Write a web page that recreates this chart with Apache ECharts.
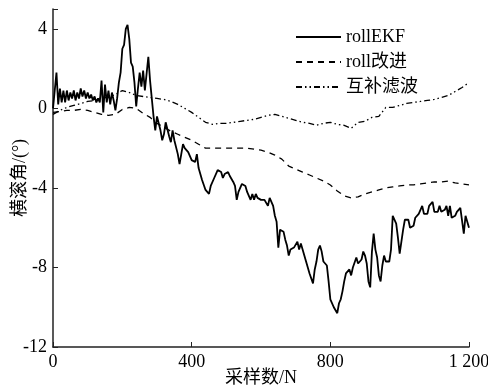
<!DOCTYPE html>
<html><head><meta charset="utf-8">
<script src="https://cdn.jsdelivr.net/npm/echarts@6/dist/echarts.min.js"></script>
<style>html,body{margin:0;padding:0;background:#fff}#c{width:488px;height:387px}</style>
</head><body><div id="c"></div>
<script>
const seriesNames = ['rollEKF', 'roll改进', '互补滤波'];
const xTicks = [0, 400, 800, 1200];
const yTicks = [-12, -8, -4, 0, 4];
const ekfStep = 5;
const rollEKF = [
0.0,0.9,1.8,0.2,1.0,0.3,0.9,0.3,0.9,0.4,0.8,0.5,0.9,0.4,0.8,0.5,1.0,0.6,0.9,0.5,
0.8,0.5,0.7,0.4,0.6,0.3,0.5,0.3,1.4,-0.2,1.2,0.3,0.9,0.2,0.8,0.4,-0.1,0.5,1.3,1.8,
3.0,3.2,4.0,4.2,3.5,2.3,2.1,1.3,0.1,1.0,1.8,1.1,1.9,0.9,1.0,2.6,1.4,0.5,-0.4,-1.1,
-0.4,-0.3,-1.1,-1.6,-1.3,-0.7,-0.7,-1.4,-1.7,-1.1,-1.6,-1.7,-2.3,-2.8,-2.3,-1.8,-2.0,-1.9,-2.2,-2.1,
-2.6,-2.7,-2.7,-2.3,-3.0,-3.1,-3.6,-3.7,-4.1,-4.0,-4.3,-3.9,-4.0,-3.5,-3.5,-3.1,-3.2,-3.2,-3.5,-3.3,
-3.4,-3.2,-3.4,-3.4,-3.7,-3.9,-4.6,-4.2,-4.3,-3.8,-3.9,-3.9,-4.2,-4.2,-4.6,-4.3,-4.6,-4.3,-4.5,-4.4,
-4.6,-4.5,-4.6,-4.6,-4.9,-4.5,-4.7,-4.9,-5.4,-5.7,-7.0,-6.1,-6.1,-6.2,-6.6,-6.9,-7.4,-7.1,-7.1,-7.0,
-7.0,-6.7,-7.1,-6.8,-7.1,-7.2,-7.7,-7.8,-8.3,-8.4,-8.8,-8.1,-7.7,-7.1,-6.9,-7.2,-7.7,-7.6,-7.9,-8.7,
-9.6,-9.7,-10.0,-10.0,-10.3,-9.8,-9.6,-9.2,-8.7,-8.3,-8.4,-8.1,-8.4,-8.0,-8.0,-7.5,-7.8,-7.7,-7.6,-7.2,
-7.4,-7.8,-8.7,-9.0,-7.2,-6.3,-7.1,-7.5,-8.4,-8.7,-7.9,-7.4,-7.7,-7.7,-7.7,-7.1,-5.4,-5.3,-5.8,-6.5,
-7.3,-6.7,-6.1,-5.6,-5.6,-5.6,-6.0,-5.9,-5.9,-5.5,-5.6,-5.3,-5.3,-4.9,-5.3,-5.2,-5.3,-4.9,-5.0,-4.7,
-5.2,-5.2,-5.2,-4.9,-5.2,-5.1,-5.1,-4.9,-5.4,-4.9,-5.5,-5.4,-5.4,-5.2,-5.3,-5.0,-5.1,-6.3,-5.4,-5.7,
-6.0
];
const smoothStep = 20;
const rollImproved = [
-0.2,-0.15,-0.1,-0.1,-0.05,-0.1,-0.2,-0.3,-0.35,-0.3,-0.05,0.05,0.0,-0.25,-0.45,-0.75,-0.95,-1.15,-1.3,-1.45,
-1.6,-1.8,-2.0,-2.0,-2.0,-2.0,-2.0,-2.0,-2.0,-2.05,-2.1,-2.2,-2.35,-2.55,-2.9,-3.05,-3.2,-3.35,-3.5,-3.65,
-3.85,-4.15,-4.4,-4.5,-4.45,-4.3,-4.2,-4.1,-4.0,-3.95,-3.9,-3.85,-3.85,-3.8,-3.75,-3.7,-3.7,-3.65,-3.75,-3.8,
-3.85
];
const compFilter = [
-0.3,-0.1,0.05,0.15,0.25,0.35,0.4,0.55,0.55,0.7,0.9,0.8,0.65,0.6,0.55,0.5,0.45,0.35,0.2,0.0,
-0.2,-0.45,-0.7,-0.8,-0.75,-0.75,-0.7,-0.65,-0.6,-0.55,-0.45,-0.35,-0.3,-0.4,-0.5,-0.6,-0.7,-0.75,-0.85,-0.75,
-0.7,-0.8,-0.85,-1.0,-0.7,-0.65,-0.45,-0.4,0.05,0.05,0.15,0.25,0.3,0.35,0.4,0.45,0.55,0.65,0.85,1.05,
1.3
];
const toXY = (arr, step) => arr.map((v, i) => [i * step, v]);
const FONT = '"Liberation Serif", "Noto Sans CJK SC", serif';
const chart = echarts.init(document.getElementById('c'), null, {renderer: 'canvas'});
chart.setOption({
  animation: false,
  backgroundColor: '#fff',
  grid: {left: 53, right: 19, top: 9, bottom: 40, containLabel: false, outerBoundsMode: 'none'},
  legend: {
    orient: 'vertical', left: 290, top: 23, itemWidth: 45, itemHeight: 14, itemGap: 7,
    itemStyle: {opacity: 0},
    textStyle: {fontFamily: FONT, fontSize: 18, color: '#000', lineHeight: 18},
    data: seriesNames
  },
  xAxis: {
    type: 'value', min: 0, max: 1200, interval: 400,
    name: '采样数/N', nameLocation: 'middle', nameGap: 22, nameMoveOverlap: false,
    nameTextStyle: {fontFamily: FONT, fontSize: 18, color: '#000'},
    axisLine: {onZero: false, lineStyle: {color: '#222', width: 1.5}},
    axisTick: {inside: true, length: 5, lineStyle: {color: '#222'}},
    axisLabel: {fontFamily: FONT, fontSize: 18, color: '#000', margin: 6,
      formatter: v => xTicks.includes(v) ? (v >= 1000 ? String(v).replace(/^(\d)(\d{3})$/, '$1 $2') : String(v)) : ''},
    splitLine: {show: false}
  },
  yAxis: {
    type: 'value', min: -12, max: 5, interval: 4,
    name: '横滚角/(°)', nameLocation: 'middle', nameGap: 24, nameRotate: 90, nameMoveOverlap: false,
    nameTextStyle: {fontFamily: FONT, fontSize: 18, color: '#000'},
    axisLine: {show: true, onZero: false, lineStyle: {color: '#222', width: 1.5}},
    axisTick: {show: true, inside: true, length: 5, lineStyle: {color: '#222'}},
    axisLabel: {fontFamily: FONT, fontSize: 18, color: '#000', margin: 6,
      formatter: v => yTicks.includes(v) ? String(v) : ''},
    splitLine: {show: false}
  },
  series: [
    {name: seriesNames[0], type: 'line', symbol: 'none', data: toXY(rollEKF, ekfStep),
      lineStyle: {color: '#000', width: 1.8}, itemStyle: {color: '#000'}, z: 3},
    {name: seriesNames[1], type: 'line', symbol: 'none', data: toXY(rollImproved, smoothStep),
      lineStyle: {color: '#000', width: 1.3, type: [6, 5]}, itemStyle: {color: '#000'}, z: 2},
    {name: seriesNames[2], type: 'line', symbol: 'none', data: toXY(compFilter, smoothStep),
      lineStyle: {color: '#000', width: 1.3, type: [6, 3, 1.5, 3, 1.5, 3]}, itemStyle: {color: '#000'}, z: 2}
  ]
});
</script></body></html>
